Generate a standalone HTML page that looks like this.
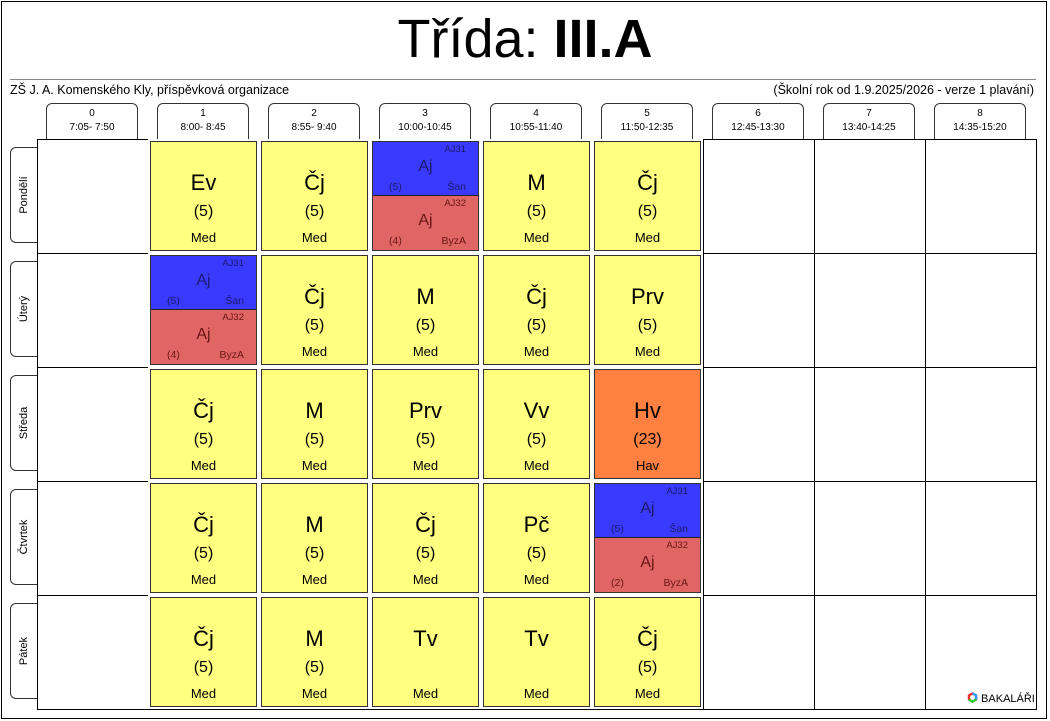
<!DOCTYPE html>
<html><head><meta charset="utf-8"><style>
*{margin:0;padding:0;box-sizing:border-box}
body{width:1050px;height:721px;background:#fff;font-family:"Liberation Sans",sans-serif;position:relative;overflow:hidden;color:#000}
.frame{position:absolute;left:1px;top:1px;width:1046px;height:718px;border:1px solid #000}
.title{position:absolute;left:0;width:1050px;top:8px;text-align:center;font-size:54px}
.hl{position:absolute;left:10px;top:79px;width:1026px;height:1px;background:#888}
.sub{position:absolute;top:83px;font-size:12.5px}
.hd{position:absolute;top:103px;width:92px;height:36px;border:1px solid #333;border-bottom:none;border-radius:6px 6px 0 0;text-align:center;font-size:10px;line-height:14px;padding-top:3px}
.day{position:absolute;left:10px;width:27px;height:96px;border:1px solid #333;border-right:none;border-radius:6px 0 0 6px}
.day span{position:absolute;left:50%;top:50%;transform:translate(-50%,-50%) rotate(-90deg);font-size:11px;white-space:nowrap}
.grid{position:absolute;left:37px;top:139px;width:1000px;height:571px;border:1px solid #000}
.vl{position:absolute;top:139px;width:1px;height:571px;background:#000}
.hz{position:absolute;left:37px;width:999px;height:1px;background:#000}
.c{position:absolute;width:107px;height:110px;border:1px solid #333;background:#ffff80;text-align:center;outline:2px solid #fff}
.c .s{position:absolute;left:0;right:0;top:28px;font-size:22px}
.c .r{position:absolute;left:0;right:0;top:61px;font-size:16px}
.c .t{position:absolute;left:0;right:0;top:88px;font-size:13px}
.o{background:#ff8040}
.sp{position:absolute;width:107px;height:110px;border:1px solid #333;outline:2px solid #fff}
.h{position:absolute;left:0;width:105px;height:54px;font-size:10.5px}
.h.b{top:0;background:#3a3aff;color:#1a1a70;border-bottom:1px solid #222}
.h.rd{top:54px;height:54px;background:#e06666;color:#6a1515}
.h .g{position:absolute;right:12px;top:2px;font-size:9.5px}
.h .a{position:absolute;left:0;right:0;text-align:center;top:16px;font-size:16px}
.h .n{position:absolute;left:16px;top:39px}
.h .k{position:absolute;right:12px;top:39px}
.logo{position:absolute;left:967px;top:692px;font-size:11px}
</style></head><body>
<div class="frame"></div>
<div class="title">Třída: <b>III.A</b></div>
<div class="hl"></div>
<div class="sub" style="left:10px">ZŠ J. A. Komenského Kly, příspěvková organizace</div>
<div class="sub" style="right:16px">(Školní rok od 1.9.2025/2026 - verze 1 plavání)</div>

<div class="hd" style="left:46px">0<br>7:05- 7:50</div>
<div class="hd" style="left:157px">1<br>8:00- 8:45</div>
<div class="hd" style="left:268px">2<br>8:55- 9:40</div>
<div class="hd" style="left:379px">3<br>10:00-10:45</div>
<div class="hd" style="left:490px">4<br>10:55-11:40</div>
<div class="hd" style="left:601px">5<br>11:50-12:35</div>
<div class="hd" style="left:712px">6<br>12:45-13:30</div>
<div class="hd" style="left:823px">7<br>13:40-14:25</div>
<div class="hd" style="left:934px">8<br>14:35-15:20</div>

<div class="day" style="top:147px"><span>Pondělí</span></div>
<div class="day" style="top:261px"><span>Úterý</span></div>
<div class="day" style="top:375px"><span>Středa</span></div>
<div class="day" style="top:489px"><span>Čtvrtek</span></div>
<div class="day" style="top:603px"><span>Pátek</span></div>

<div class="grid"></div>
<div class="vl" style="left:148px"></div><div class="vl" style="left:259px"></div><div class="vl" style="left:370px"></div><div class="vl" style="left:481px"></div><div class="vl" style="left:592px"></div><div class="vl" style="left:703px"></div><div class="vl" style="left:814px"></div><div class="vl" style="left:925px"></div>
<div class="hz" style="top:253px"></div><div class="hz" style="top:367px"></div><div class="hz" style="top:481px"></div><div class="hz" style="top:595px"></div>

<div class="c" style="left:150px;top:141px"><div class="s">Ev</div><div class="r">(5)</div><div class="t">Med</div></div>
<div class="c" style="left:261px;top:141px"><div class="s">Čj</div><div class="r">(5)</div><div class="t">Med</div></div>
<div class="sp" style="left:372px;top:141px"><div class="h b"><span class="g">AJ31</span><span class="a">Aj</span><span class="n">(5)</span><span class="k">Šan</span></div><div class="h rd"><span class="g">AJ32</span><span class="a">Aj</span><span class="n">(4)</span><span class="k">ByzA</span></div></div>
<div class="c" style="left:483px;top:141px"><div class="s">M</div><div class="r">(5)</div><div class="t">Med</div></div>
<div class="c" style="left:594px;top:141px"><div class="s">Čj</div><div class="r">(5)</div><div class="t">Med</div></div>

<div class="sp" style="left:150px;top:255px"><div class="h b"><span class="g">AJ31</span><span class="a">Aj</span><span class="n">(5)</span><span class="k">Šan</span></div><div class="h rd"><span class="g">AJ32</span><span class="a">Aj</span><span class="n">(4)</span><span class="k">ByzA</span></div></div>
<div class="c" style="left:261px;top:255px"><div class="s">Čj</div><div class="r">(5)</div><div class="t">Med</div></div>
<div class="c" style="left:372px;top:255px"><div class="s">M</div><div class="r">(5)</div><div class="t">Med</div></div>
<div class="c" style="left:483px;top:255px"><div class="s">Čj</div><div class="r">(5)</div><div class="t">Med</div></div>
<div class="c" style="left:594px;top:255px"><div class="s">Prv</div><div class="r">(5)</div><div class="t">Med</div></div>

<div class="c" style="left:150px;top:369px"><div class="s">Čj</div><div class="r">(5)</div><div class="t">Med</div></div>
<div class="c" style="left:261px;top:369px"><div class="s">M</div><div class="r">(5)</div><div class="t">Med</div></div>
<div class="c" style="left:372px;top:369px"><div class="s">Prv</div><div class="r">(5)</div><div class="t">Med</div></div>
<div class="c" style="left:483px;top:369px"><div class="s">Vv</div><div class="r">(5)</div><div class="t">Med</div></div>
<div class="c o" style="left:594px;top:369px"><div class="s">Hv</div><div class="r">(23)</div><div class="t">Hav</div></div>

<div class="c" style="left:150px;top:483px"><div class="s">Čj</div><div class="r">(5)</div><div class="t">Med</div></div>
<div class="c" style="left:261px;top:483px"><div class="s">M</div><div class="r">(5)</div><div class="t">Med</div></div>
<div class="c" style="left:372px;top:483px"><div class="s">Čj</div><div class="r">(5)</div><div class="t">Med</div></div>
<div class="c" style="left:483px;top:483px"><div class="s">Pč</div><div class="r">(5)</div><div class="t">Med</div></div>
<div class="sp" style="left:594px;top:483px"><div class="h b"><span class="g">AJ31</span><span class="a">Aj</span><span class="n">(5)</span><span class="k">Šan</span></div><div class="h rd"><span class="g">AJ32</span><span class="a">Aj</span><span class="n">(2)</span><span class="k">ByzA</span></div></div>

<div class="c" style="left:150px;top:597px"><div class="s">Čj</div><div class="r">(5)</div><div class="t">Med</div></div>
<div class="c" style="left:261px;top:597px"><div class="s">M</div><div class="r">(5)</div><div class="t">Med</div></div>
<div class="c" style="left:372px;top:597px"><div class="s">Tv</div><div class="r"></div><div class="t">Med</div></div>
<div class="c" style="left:483px;top:597px"><div class="s">Tv</div><div class="r"></div><div class="t">Med</div></div>
<div class="c" style="left:594px;top:597px"><div class="s">Čj</div><div class="r">(5)</div><div class="t">Med</div></div>

<div class="logo"><svg width="11" height="11" viewBox="0 0 10 10" style="vertical-align:-1px"><polygon points="5,0 9.3,2.5 9.3,7.5 5,10 0.7,7.5 0.7,2.5" fill="#e33"/><polygon points="5,0 9.3,2.5 9.3,7.5 5,5" fill="#39f"/><polygon points="9.3,7.5 5,10 0.7,7.5 5,5" fill="#3c3"/><circle cx="5" cy="5" r="2.2" fill="#fff"/></svg> BAKALÁŘI</div>
</body></html>
